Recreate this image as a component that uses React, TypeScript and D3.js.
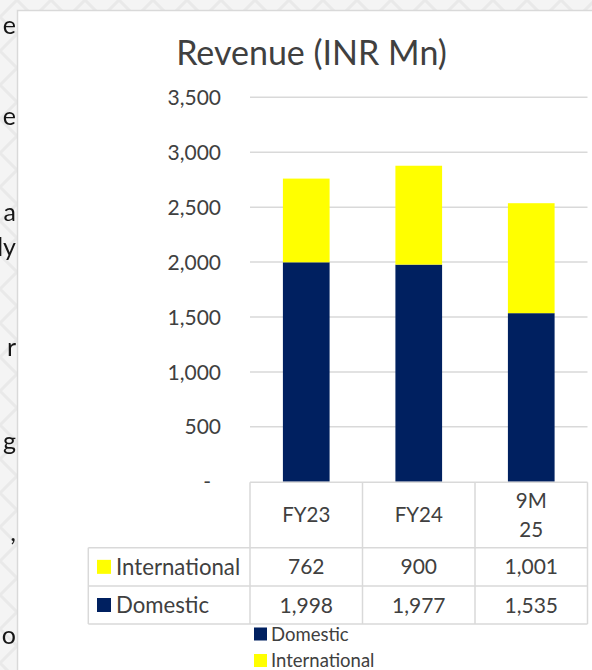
import React from 'react';
import * as d3 from 'd3';

// ---- data ----
const categories = ['FY23', 'FY24', '9M 25'];
const categoryLines = [['FY23'], ['FY24'], ['9M', '25']];
const seriesNames = ['Domestic', 'International'];
const domestic = [1998, 1977, 1535];
const international = [762, 900, 1001];
const yTicks = [0, 500, 1000, 1500, 2000, 2500, 3000, 3500];
const title = 'Revenue (INR Mn)';
const seriesColors = ['#002060', '#FFFF00'];

// decorative fragments of the neighbouring slide text (clipped by the panel)
const sideFragments = [
  { t: 'e', y: 34 },
  { t: 'e', y: 125 },
  { t: 'a', y: 221 },
  { t: 'ly', y: 256 },
  { t: 'r', y: 356 },
  { t: 'g', y: 450 },
  { t: ',', y: 541 },
  { t: 'o', y: 644 },
];

const W = 592;
const H = 670;
const FONT = 'Lato, "Open Sans", sans-serif';
const TXT = '#404040';
const GRID = '#d9d9d9';

export default function App() {
  const plotLeft = 250;
  const plotRight = 587.5;
  const y0 = 481.8;
  const yTop = 97.3;

  const x = d3
    .scaleBand<string>()
    .domain(categories)
    .range([plotLeft, plotRight])
    .paddingInner(0.585)
    .paddingOuter(0.2925);
  const y = d3.scaleLinear().domain([0, 3500]).range([y0, yTop]);

  const rows = categories.map((c, i) => ({ cat: c, Domestic: domestic[i], International: international[i] }));
  const stack = d3.stack<any>().keys(seriesNames)(rows);

  const fmt = d3.format(',');
  const step = x.step();
  const colEdges = categories.map((_, i) => plotLeft + i * step);
  colEdges.push(plotRight);

  const headerTop = 482.3;
  const headerBottom = 547.7;
  const row1Bottom = 586;
  const row2Bottom = 624;
  const tableLeft = 88.3;

  const tableRows = [
    { name: 'International', values: international, color: seriesColors[1], top: headerBottom, bottom: row1Bottom },
    { name: 'Domestic', values: domestic, color: seriesColors[0], top: row1Bottom, bottom: row2Bottom },
  ];

  return (
    <svg
      width={W}
      height={H}
      style={{ position: 'fixed', left: 0, top: 0, display: 'block' }}
      fontFamily={FONT}
    >
      <defs>
        <pattern id="bgpat" width="34" height="34" patternUnits="userSpaceOnUse">
          <rect width="34" height="34" fill="#f4f4f4" />
          <path d="M0 17 L17 0 L34 17 L17 34 Z" fill="none" stroke="#e9e9e9" strokeWidth="3" />
        </pattern>
        <clipPath id="sideclip">
          <rect x={0} y={0} width={17} height={H} />
        </clipPath>
      </defs>
      <rect x={0} y={0} width={W} height={H} fill="url(#bgpat)" />
      <g clipPath="url(#sideclip)">
        {sideFragments.map((f, i) => (
          <text key={i} x={16} y={f.y} textAnchor="end" fontSize={25} fill="#161616">
            {f.t}
          </text>
        ))}
      </g>
      <rect x={17.5} y={10.5} width={W} height={H} fill="#ffffff" stroke={GRID} strokeWidth={1.5} />

      {/* title */}
      <text x={311.5} y={65} textAnchor="middle" fontSize={34} fill={TXT}>
        {title}
      </text>

      {/* gridlines */}
      {yTicks
        .filter((t) => t > 0)
        .map((t) => (
          <line key={t} x1={plotLeft} x2={plotRight} y1={y(t)} y2={y(t)} stroke={GRID} strokeWidth={1.5} />
        ))}

      {/* y labels */}
      {yTicks.map((t) => (
        <text
          key={t}
          x={t === 0 ? 211 : 221}
          y={y(t)}
          dy="0.36em"
          textAnchor="end"
          fontSize={21}
          fill={TXT}
        >
          {t === 0 ? '-' : fmt(t)}
        </text>
      ))}

      {/* bars */}
      {stack.map((s, si) => (
        <g key={s.key} fill={seriesColors[si]}>
          {s.map((d, i) => (
            <rect
              key={i}
              x={x(categories[i])}
              width={x.bandwidth()}
              y={y(d[1])}
              height={y(d[0]) - y(d[1])}
            />
          ))}
        </g>
      ))}

      {/* data table */}
      <g stroke={GRID} strokeWidth={1.5} fill="none">
        <line x1={plotLeft} x2={plotRight} y1={headerTop} y2={headerTop} />
        <line x1={tableLeft} x2={plotRight} y1={headerBottom} y2={headerBottom} />
        <line x1={tableLeft} x2={plotRight} y1={row1Bottom} y2={row1Bottom} />
        <line x1={tableLeft} x2={plotRight} y1={row2Bottom} y2={row2Bottom} />
        <line x1={tableLeft} x2={tableLeft} y1={headerBottom} y2={row2Bottom} />
        {colEdges.map((cx, i) => (
          <line key={i} x1={cx} x2={cx} y1={headerTop} y2={row2Bottom} />
        ))}
      </g>
      {categoryLines.map((lines, i) => {
        const cx = colEdges[i] + step / 2;
        const cy = (headerTop + headerBottom) / 2;
        const lh = 29.5;
        return (
          <text key={i} textAnchor="middle" fontSize={20.5} fill={TXT}>
            {lines.map((l, li) => (
              <tspan key={li} x={cx} y={cy + (li - (lines.length - 1) / 2) * lh} dy="0.36em">
                {l}
              </tspan>
            ))}
          </text>
        );
      })}
      {tableRows.map((r) => {
        const cy = (r.top + r.bottom) / 2;
        return (
          <g key={r.name}>
            <rect x={97} y={cy - 7} width={14} height={14} fill={r.color} />
            <text x={116} y={cy} dy="0.36em" fontSize={22.2} fill={TXT}>
              {r.name}
            </text>
            {r.values.map((v, i) => (
              <text key={i} x={colEdges[i] + step / 2} y={cy} dy="0.36em" textAnchor="middle" fontSize={21} fill={TXT}>
                {fmt(v)}
              </text>
            ))}
          </g>
        );
      })}

      {/* legend */}
      {seriesNames.map((n, i) => {
        const cy = 634 + i * 26.5;
        return (
          <g key={n}>
            <rect x={254} y={cy - 6.5} width={13} height={13} fill={seriesColors[i]} />
            <text x={271} y={cy} dy="0.36em" fontSize={18.5} fill={TXT}>
              {n}
            </text>
          </g>
        );
      })}
    </svg>
  );
}
